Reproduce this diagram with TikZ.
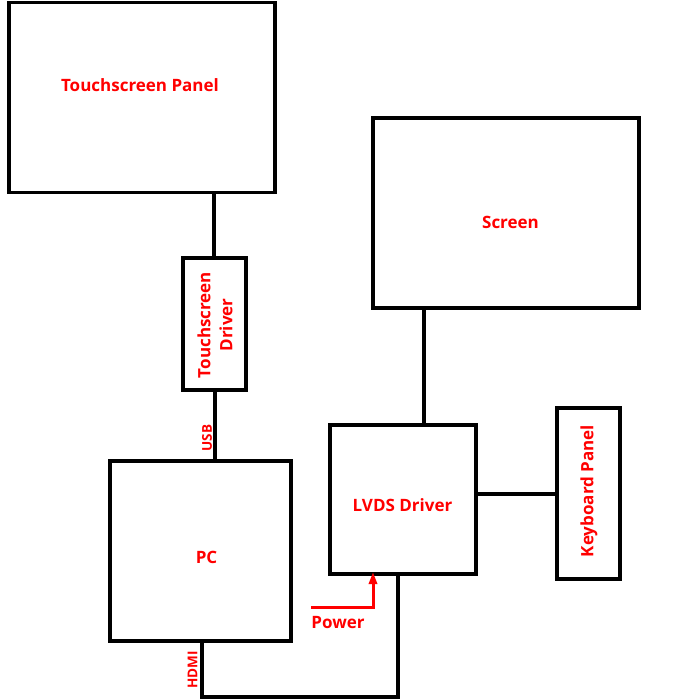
\documentclass[tikz,border=0pt]{standalone}
\usepackage{fontspec}
\setmainfont{Open Sans}[BoldFont={Open Sans Bold}]
\usetikzlibrary{arrows.meta}
\definecolor{lblred}{RGB}{255,0,0}
\begin{document}
\begin{tikzpicture}[x=1pt,y=-1pt,
  blk/.style={draw=black,line width=3.5pt,fill=white,anchor=north west,outer sep=0pt},
  wire/.style={draw=black,line width=3.5pt},
  lbl/.style={text=lblred,font=\bfseries\fontsize{17}{22}\selectfont,align=center,inner sep=0pt},
  slbl/.style={text=lblred,font=\bfseries\fontsize{13.5}{16}\selectfont,inner sep=0pt}]
\useasboundingbox (0,0) rectangle (689,700);
% boxes
\node[blk,minimum width=266pt,minimum height=190pt] (tp) at (9,2.5) {};
\node[lbl] (tpl) at (140,85) {Touchscreen Panel};
\node[blk,minimum width=63pt,minimum height=132pt] (td) at (183,258) {};
\node[lbl,rotate=90] (tdl) at (215,325) {Touchscreen\\Driver};
\node[blk,minimum width=181pt,minimum height=180pt] (pc) at (110,461) {};
\node[lbl] (pcl) at (206.5,557) {PC};
\node[blk,minimum width=266pt,minimum height=190pt] (scr) at (373,118) {};
\node[lbl] (scrl) at (510.5,222.5) {Screen};
\node[blk,minimum width=146pt,minimum height=149pt] (lv) at (330,425) {};
\node[lbl] (lvl) at (402.5,505) {LVDS Driver};
\node[blk,minimum width=63pt,minimum height=171pt] (kp) at (557,408) {};
\node[lbl,rotate=90] (kpl) at (589,491) {Keyboard Panel};
% connectors
\draw[wire] (tp.south -| 214,0) -- (td.north -| 214,0);
\draw[wire] (td.south -| 215,0) -- (pc.north -| 215,0);
\node[slbl,rotate=90] (usb) at (207,438) {USB};
\draw[wire] (scr.south -| 424,0) -- (lv.north -| 424,0);
\draw[wire] (lv.east |- 0,494) -- (kp.west |- 0,494);
\coordinate (hd1) at (202,697);
\coordinate (hd2) at (398,697);
\draw[wire,line join=miter] (pc.south -| 202,0) -- (hd1) -- (hd2) -- (lv.south -| 398,0);
\node[slbl,rotate=90] (hdmi) at (192.5,670) {HDMI};
% power
\coordinate (pw) at (311,607);
\coordinate (pwc) at (373,607);
\draw[draw=lblred,line width=3pt,line join=miter,-{Triangle[length=12pt,width=8pt]}] (pw) -- (pwc) -- ([yshift=2pt]lv.south -| pwc);
\node[lbl] (power) at (338,623) {Power};
\end{tikzpicture}
\end{document}
